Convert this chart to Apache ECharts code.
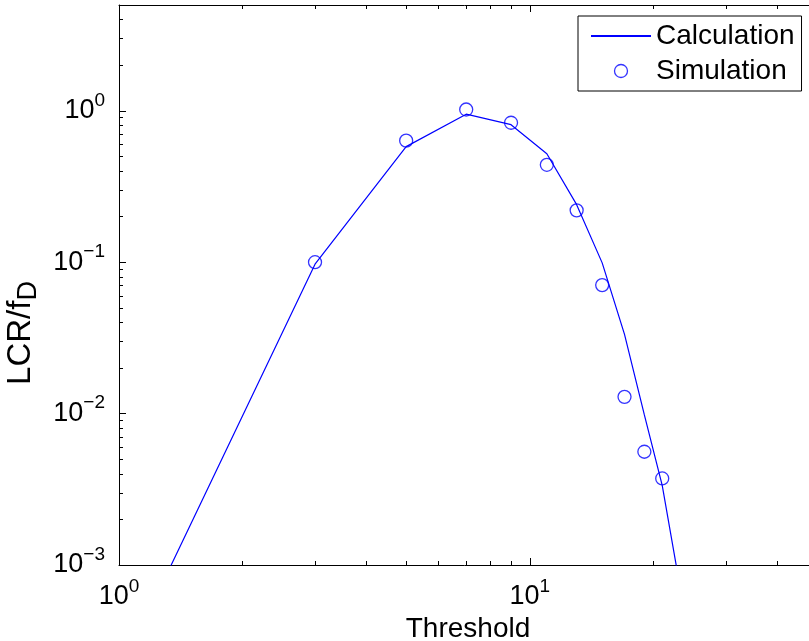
<!DOCTYPE html>
<html><head><meta charset="utf-8">
<script src="https://cdn.jsdelivr.net/npm/echarts@6/dist/echarts.min.js"></script>
<style>html,body{margin:0;padding:0;background:#fff}#c{width:809px;height:641px}</style>
</head><body><div id="c"></div>
<script>
// ---- data ----
const simThreshold = [3, 5, 7, 9, 11, 13, 15, 17, 19, 21];
const simValue = [0.100, 0.635, 1.02, 0.834, 0.44, 0.22, 0.0706, 0.0129, 0.0056, 0.00373];
const calcThreshold = [1, 3, 5, 7, 9, 11, 13, 15, 17, 19, 21, 23];
const calcValue = [0.00019, 0.097, 0.58, 0.95, 0.81, 0.52, 0.24, 0.099, 0.0334, 0.0098, 0.00336, 0.00082];
const xRange = [1, 50];
const yRange = [0.001, 5];
const xMajorTicks = [1, 10];
const xMinorTicks = [2, 3, 4, 5, 6, 7, 8, 9, 20, 30, 40, 50];
const yMajorTicks = [0.001, 0.01, 0.1, 1];
const yMinorTicks = [0.002, 0.003, 0.004, 0.005, 0.006, 0.007, 0.008, 0.009,
  0.02, 0.03, 0.04, 0.05, 0.06, 0.07, 0.08, 0.09,
  0.2, 0.3, 0.4, 0.5, 0.6, 0.7, 0.8, 0.9, 2, 3, 4, 5];
const seriesNames = ['Calculation', 'Simulation'];
const xTitle = 'Threshold';

// ---- build ----
const FONT = '"Liberation Sans", Arial, Helvetica, sans-serif';
const BLUE = '#0000ff';
const lg = v => Math.log10(v);
const xl = [lg(xRange[0]), lg(xRange[1])];
const yl = [lg(yRange[0]), lg(yRange[1])];
const powRich = {
  b: { fontSize: 27, fontFamily: FONT, color: '#000', lineHeight: 40, verticalAlign: 'middle' },
  s: { fontSize: 19, fontFamily: FONT, color: '#000', lineHeight: 19, verticalAlign: 'top' }
};
const powFmt = v => {
  const e = Math.round(v);
  return '{b|10}{s|' + (e < 0 ? '\u2212' + (-e) : e) + '}';
};
function tickAxis(pos, range, vals, len, withLine, label) {
  return {
    type: 'value', position: pos, min: range[0], max: range[1], gridIndex: 0,
    axisLine: { show: withLine, onZero: false, lineStyle: { color: '#000', width: 1 } },
    axisTick: { show: true, inside: true, length: len, customValues: vals.map(lg),
      lineStyle: { color: '#000', width: 1 } },
    axisLabel: label ? Object.assign({ show: true, customValues: vals.map(lg), formatter: powFmt, rich: powRich }, label) : { show: false },
    splitLine: { show: false }, minorTick: { show: false }, minorSplitLine: { show: false }
  };
}
const xBottom = tickAxis('bottom', xl, xMajorTicks, 7, true, { margin: 12 });
xBottom.name = xTitle;
xBottom.nameLocation = 'middle';
xBottom.nameGap = 48;
xBottom.nameTextStyle = { fontSize: 28, fontFamily: FONT, color: '#000' };
const yLeft = tickAxis('left', yl, yMajorTicks, 7, true, { margin: 14 });
yLeft.name = '{a|LCR/f}{d|D}';
yLeft.nameLocation = 'middle';
yLeft.nameRotate = 90;
yLeft.nameGap = 53;
yLeft.nameTextStyle = { rich: {
  a: { fontSize: 33, fontFamily: FONT, color: '#000', lineHeight: 42, verticalAlign: 'middle' },
  d: { fontSize: 27, fontFamily: FONT, color: '#000', lineHeight: 27, verticalAlign: 'bottom', padding: [0, 96, 0, 0] }
} };

const option = {
  animation: false,
  backgroundColor: '#fff',
  grid: { left: 119, top: 5, width: 698, height: 560, containLabel: false, outerBoundsMode: 'none' },
  legend: {
    left: 578, top: 16, orient: 'vertical',
    itemWidth: 60, itemHeight: 13, itemGap: 5,
    padding: [5, 7, 5, 12],
    borderColor: '#000', borderWidth: 1, backgroundColor: '#fff',
    textStyle: { fontSize: 28, fontFamily: FONT, color: '#000', lineHeight: 30 },
    data: [
      { name: seriesNames[0], itemStyle: { color: 'transparent', borderColor: 'transparent', borderWidth: 0 } },
      { name: seriesNames[1], itemStyle: { color: 'transparent', borderColor: BLUE, borderWidth: 1.3 } }
    ]
  },
  xAxis: [
    { type: 'log', min: xRange[0], max: xRange[1], show: false, gridIndex: 0 },
    xBottom,
    tickAxis('bottom', xl, xMinorTicks, 4, false, null),
    tickAxis('top', xl, xMajorTicks, 7, true, null),
    tickAxis('top', xl, xMinorTicks, 4, false, null)
  ],
  yAxis: [
    { type: 'log', min: yRange[0], max: yRange[1], show: false, gridIndex: 0 },
    yLeft,
    tickAxis('left', yl, yMinorTicks, 4, false, null),
    tickAxis('right', yl, yMajorTicks, 7, true, null),
    tickAxis('right', yl, yMinorTicks, 4, false, null)
  ],
  series: [
    {
      name: seriesNames[0], type: 'line', xAxisIndex: 0, yAxisIndex: 0,
      data: calcThreshold.map((t, i) => [t, calcValue[i]]),
      symbol: 'none', showSymbol: false, clip: true,
      lineStyle: { color: BLUE, width: 1.2 }, itemStyle: { color: BLUE }
    },
    {
      name: seriesNames[1], type: 'scatter', xAxisIndex: 0, yAxisIndex: 0,
      data: simThreshold.map((t, i) => [t, simValue[i]]),
      symbol: 'circle', symbolSize: 13,
      itemStyle: { color: 'transparent', borderColor: BLUE, borderWidth: 1.3 }
    }
  ]
};
const chart = echarts.init(document.getElementById('c'), null, { renderer: 'canvas' });
chart.setOption(option);
</script>
</body></html>
